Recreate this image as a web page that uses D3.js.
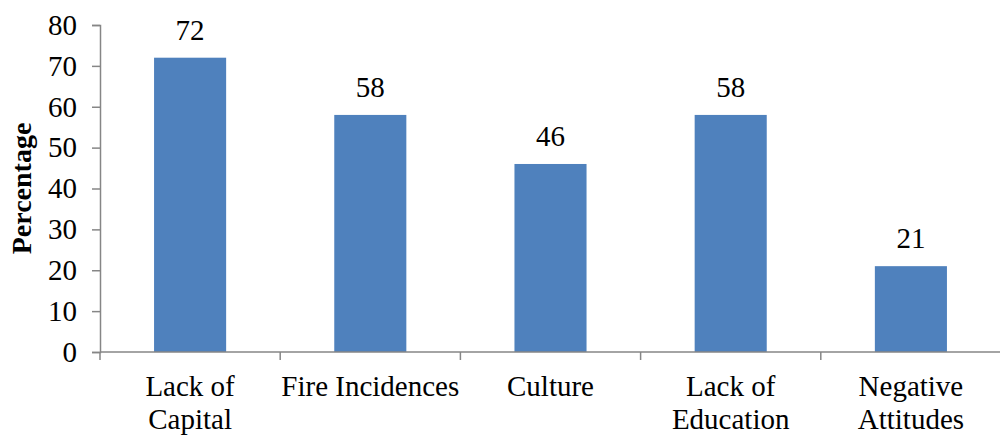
<!DOCTYPE html>
<html>
<head>
<meta charset="utf-8">
<script src="https://cdn.jsdelivr.net/npm/d3@7"></script>
<style>
  html, body { margin: 0; padding: 0; background: #fff; }
  svg { display: block; }
</style>
</head>
<body>
<svg id="chart" width="1000" height="435"></svg>
<script>
// Barriers to entrepreneurship, share of respondents
const categories = [["Lack of", "Capital"], ["Fire Incidences"], ["Culture"], ["Lack of", "Education"], ["Negative", "Attitudes"]];
const values = [72, 58, 46, 58, 21];
const yTicks = [0, 10, 20, 30, 40, 50, 60, 70, 80];
const yTitle = "Percentage";

const serif = "'Times New Roman', 'Liberation Serif', Tinos, serif";
const fontSize = "29px";

const svg = d3.select("#chart");
const margin = { left: 100, right: 0, top: 25, bottom: 83 };
const width = 1001, height = 435;

const keys = categories.map((c, i) => i);
const x = d3.scaleBand()
  .domain(keys)
  .range([margin.left, width])
  .paddingInner(0.6)
  .paddingOuter(0.3);

const y = d3.scaleLinear()
  .domain([0, 80])
  .range([height - margin.bottom, margin.top]);

const axisColor = "#868686";

// y axis
const yAxis = svg.append("g")
  .attr("transform", `translate(${margin.left},0)`)
  .call(d3.axisLeft(y).tickValues(yTicks).tickSize(8).tickPadding(15));
yAxis.attr("font-family", null).attr("font-size", null);
yAxis.select(".domain").attr("stroke", axisColor).attr("stroke-width", 1.5);
yAxis.selectAll(".tick line").attr("stroke", axisColor).attr("stroke-width", 1.5);
yAxis.selectAll(".tick text")
  .style("font-family", serif)
  .style("font-size", fontSize)
  .attr("fill", "#000");

// bars
svg.append("g").selectAll("rect")
  .data(values)
  .join("rect")
  .attr("x", (d, i) => x(i))
  .attr("y", d => y(d))
  .attr("width", x.bandwidth())
  .attr("height", d => y(0) - y(d))
  .attr("fill", "#4f81bd");

// value labels
svg.append("g").selectAll("text")
  .data(values)
  .join("text")
  .attr("x", (d, i) => x(i) + x.bandwidth() / 2)
  .attr("y", d => y(d) - 18)
  .attr("text-anchor", "middle")
  .style("font-family", serif)
  .style("font-size", fontSize)
  .text(d => d);

// x axis with boundary ticks between categories
const x0 = margin.left;
const boundaries = d3.range(0, keys.length + 1).map(i => x0 + i * (width - x0) / keys.length);
const xAxisG = svg.append("g");
xAxisG.append("line")
  .attr("x1", x0).attr("x2", width)
  .attr("y1", y(0)).attr("y2", y(0))
  .attr("stroke", axisColor).attr("stroke-width", 1.5);
xAxisG.selectAll("line.tick")
  .data(boundaries)
  .join("line")
  .attr("class", "tick")
  .attr("x1", d => d).attr("x2", d => d)
  .attr("y1", y(0)).attr("y2", y(0) + 8)
  .attr("stroke", axisColor).attr("stroke-width", 1.5);

// category labels
const labels = xAxisG.selectAll("text.cat")
  .data(categories)
  .join("text")
  .attr("class", "cat")
  .attr("text-anchor", "middle")
  .style("font-family", serif)
  .style("font-size", fontSize)
  .attr("x", (d, i) => x(i) + x.bandwidth() / 2)
  .attr("y", y(0) + 44);
labels.selectAll("tspan")
  .data(d => d)
  .join("tspan")
  .attr("x", function () { return d3.select(this.parentNode).attr("x"); })
  .attr("dy", (d, i) => i === 0 ? 0 : 33)
  .text(d => d);

// y title
svg.append("text")
  .attr("transform", `translate(31,${(y(0) + y(80)) / 2}) rotate(-90)`)
  .attr("text-anchor", "middle")
  .style("font-family", serif)
  .style("font-size", "28px")
  .style("font-weight", "bold")
  .text(yTitle);
</script>
</body>
</html>
